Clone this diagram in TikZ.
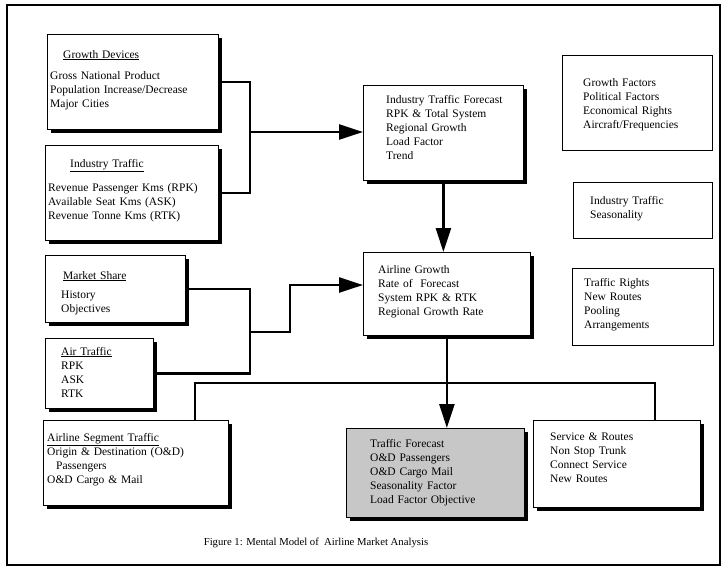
\documentclass[tikz,border=0pt]{standalone}
\usepackage{fontspec}
\setmainfont{Liberation Serif}
\usepackage{tikz}
\usetikzlibrary{calc,arrows.meta,shadows}
\tikzset{
  frame/.style={draw=black, line width=1.2pt},
  panel/.style={draw=black, line width=0.8pt, fill=white, anchor=north west, inner sep=0pt,
    drop shadow={shadow xshift=3.5pt, shadow yshift=-3.5pt, fill=black, opacity=1}},
  plain/.style={draw=black, line width=0.8pt, fill=white, anchor=north west, inner sep=0pt},
  shade/.style={panel, fill=black!22},
  lines/.style={anchor=base west, align=left, inner sep=0pt, text width=170pt,
    font=\fontsize{11.5}{14}\selectfont},
  caption/.style={font=\fontsize{10.7}{12}\selectfont},
  wire/.style={draw=black, line width=2.6pt},
  arr/.style={wire, -{Triangle[length=24pt,width=15pt]}},
}

\begin{document}
\begin{tikzpicture}[x=1pt,y=-1pt]
  \useasboundingbox (0,0) rectangle (725,573);
  \draw[frame] (7,5) rectangle (720,565);

  % left column
  \node[panel, minimum width=171, minimum height=95] (gd) at (47,34) {};
  \node[lines] (gdt) at ($(gd.north west)+(3,24)$)
    {\hspace*{13pt}\underline{Growth Devices}\\[7pt]
     Gross National Product\\ Population Increase/Decrease\\ Major Cities};
  \node[panel, minimum width=173, minimum height=95] (it) at (45,145) {};
  \node[lines] (itt) at ($(it.north west)+(3,22)$)
    {\hspace*{22pt}\underline{Industry Traffic}\\[10pt]
     Revenue Passenger Kms (RPK)\\ Available Seat Kms (ASK)\\ Revenue Tonne Kms (RTK)};
  \node[panel, minimum width=140, minimum height=67] (ms) at (45,255) {};
  \node[lines] (mst) at ($(ms.north west)+(16,24)$)
    {\hspace*{2pt}\underline{Market Share}\\[5pt] History\\ Objectives};
  \node[panel, minimum width=108, minimum height=70] (at) at (45,338) {};
  \node[lines] (att) at ($(at.north west)+(16,17)$)
    {\underline{Air Traffic}\\ RPK\\ ASK\\ RTK};
  \node[panel, minimum width=185, minimum height=85] (aseg) at (43,420) {};
  \node[lines] (asegt) at ($(aseg.north west)+(4,21)$)
    {\underline{Airline Segment Traffic}\\ Origin \& Destination (O\&D)\\
     \hspace*{9pt}Passengers\\ O\&D Cargo \& Mail};

  % middle column
  \node[panel, minimum width=160, minimum height=95] (itf) at (363,85) {};
  \node[lines] (itft) at ($(itf.north west)+(23,18)$)
    {Industry Traffic Forecast\\ RPK \& Total System\\ Regional Growth\\ Load Factor\\ Trend};
  \node[panel, minimum width=167, minimum height=83] (ag) at (363,252) {};
  \node[lines] (agt) at ($(ag.north west)+(15,21)$)
    {Airline Growth\\ Rate of\ \ Forecast\\ System RPK \& RTK\\ Regional Growth Rate};
  \node[shade, minimum width=178, minimum height=89] (tf) at (346,428) {};
  \node[lines] (tft) at ($(tf.north west)+(24,19)$)
    {Traffic Forecast\\ O\&D Passengers\\ O\&D Cargo Mail\\ Seasonality Factor\\ Load Factor Objective};

  % right column
  \node[panel, minimum width=167, minimum height=87] (sr) at (533,420) {};
  \node[lines] (srt) at ($(sr.north west)+(17,20)$)
    {Service \& Routes\\ Non Stop Trunk\\ Connect Service\\ New Routes};
  \node[plain, minimum width=150, minimum height=95] (gf) at (562,55) {};
  \node[lines] (gft) at ($(gf.north west)+(21,31)$)
    {Growth Factors\\ Political Factors\\ Economical Rights\\ Aircraft/Frequencies};
  \node[plain, minimum width=139, minimum height=56] (its) at (573,182) {};
  \node[lines] (itst) at ($(its.north west)+(17,22)$)
    {Industry Traffic\\ Seasonality};
  \node[plain, minimum width=141, minimum height=77] (tr) at (572,268) {};
  \node[lines] (trt) at ($(tr.north west)+(12,18)$)
    {Traffic Rights\\ New Routes\\ Pooling\\ Arrangements};

  \node[caption] (cap) at (316,543) {Figure 1: Mental Model of\ \ Airline Market Analysis};

  % connectors
  \coordinate (j1) at (250,132);
  \coordinate (j2) at (250,332);
  \coordinate (j3) at (290,285);
  \coordinate (j4) at (195,383);
  \coordinate (j5) at (655,383);
  \draw[wire] (gd.east) -| (j1) |- (it.east);
  \draw[arr] (j1) -- (j1 -| itf.west);
  \draw[arr] (itf.south) -- (itf.south |- ag.north);
  \draw[wire] (ms.east) -| (j2) |- (at.east);
  \draw[arr] (j2) -| (j3) -- (j3 -| ag.west);
  \draw[wire] (j4 |- aseg.north) -- (j4) -- (j5) -- (j5 |- sr.north);
  \draw[arr] (ag.south) -- (ag.south |- tf.north);
\end{tikzpicture}
\end{document}
